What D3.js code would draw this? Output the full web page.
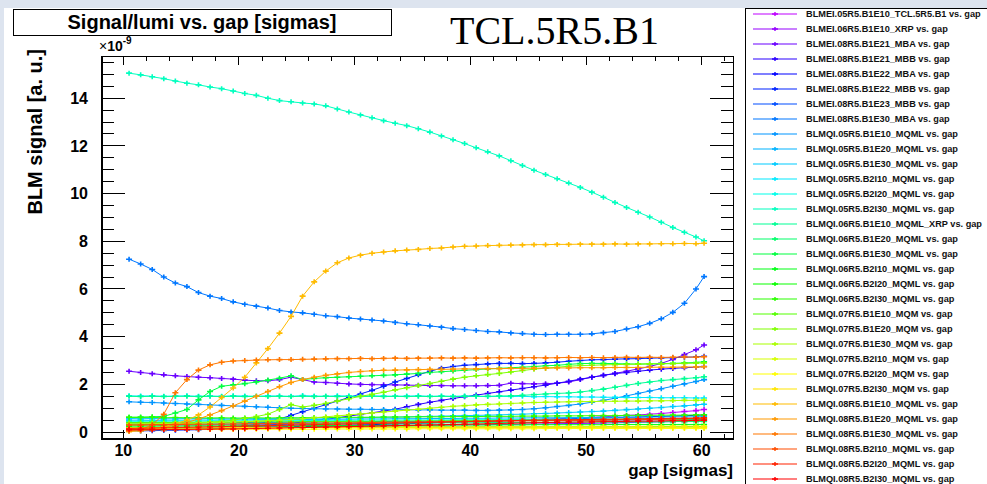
<!DOCTYPE html>
<html>
<head>
<meta charset="utf-8">
<script src="https://cdn.jsdelivr.net/npm/d3@7"></script>
<style>
  html, body { margin: 0; padding: 0; background: #dde4ef; }
  svg { display: block; font-family: "Liberation Sans", Arial, Helvetica, sans-serif; }
</style>
</head>
<body>
<svg id="chart" width="987" height="484"></svg>
<script>
// ---- data: gap positions [sigmas] and normalised BLM signal (units of 1e-9) ----
const gapSigmas = [10.5, 11.5, 12.5, 13.5, 14.5, 15.5, 16.5, 17.5, 18.5, 19.5,
  20.5, 21.5, 22.5, 23.5, 24.5, 25.5, 26.5, 27.5, 28.5, 29.5,
  30.5, 31.5, 32.5, 33.5, 34.5, 35.5, 36.5, 37.5, 38.5, 39.5,
  40.5, 41.5, 42.5, 43.5, 44.5, 45.5, 46.5, 47.5, 48.5, 49.5,
  50.5, 51.5, 52.5, 53.5, 54.5, 55.5, 56.5, 57.5, 58.5, 59.5, 60.2];

const monitorNames = [
  "BLMEI.05R5.B1E10_TCL.5R5.B1", "BLMEI.06R5.B1E10_XRP", "BLMEI.08R5.B1E21_MBA",
  "BLMEI.08R5.B1E21_MBB", "BLMEI.08R5.B1E22_MBA", "BLMEI.08R5.B1E22_MBB",
  "BLMEI.08R5.B1E23_MBB", "BLMEI.08R5.B1E30_MBA", "BLMQI.05R5.B1E10_MQML",
  "BLMQI.05R5.B1E20_MQML", "BLMQI.05R5.B1E30_MQML", "BLMQI.05R5.B2I10_MQML",
  "BLMQI.05R5.B2I20_MQML", "BLMQI.05R5.B2I30_MQML", "BLMQI.06R5.B1E10_MQML_XRP",
  "BLMQI.06R5.B1E20_MQML", "BLMQI.06R5.B1E30_MQML", "BLMQI.06R5.B2I10_MQML",
  "BLMQI.06R5.B2I20_MQML", "BLMQI.06R5.B2I30_MQML", "BLMQI.07R5.B1E10_MQM",
  "BLMQI.07R5.B1E20_MQM", "BLMQI.07R5.B1E30_MQM", "BLMQI.07R5.B2I10_MQM",
  "BLMQI.07R5.B2I20_MQM", "BLMQI.07R5.B2I30_MQM", "BLMQI.08R5.B1E10_MQML",
  "BLMQI.08R5.B1E20_MQML", "BLMQI.08R5.B1E30_MQML", "BLMQI.08R5.B2I10_MQML",
  "BLMQI.08R5.B2I20_MQML", "BLMQI.08R5.B2I30_MQML"];

const s01 = [0.3,0.29,0.3,0.28,0.29,0.3,0.29,0.3,0.31,0.3, 0.31,0.3,0.32,0.31,0.32,0.33,0.32,0.33,0.34,0.33, 0.35,0.35,0.36,0.37,0.38,0.39,0.4,0.41,0.43,0.44, 0.46,0.47,0.48,0.5,0.51,0.53,0.55,0.56,0.58,0.6, 0.62,0.64,0.67,0.7,0.72,0.75,0.78,0.82,0.86,0.9, 0.95];
const s02 = [0.18,0.18,0.19,0.18,0.19,0.19,0.2,0.19,0.2,0.2, 0.21,0.21,0.22,0.22,0.23,0.23,0.24,0.24,0.25,0.25, 0.26,0.26,0.27,0.27,0.28,0.28,0.29,0.29,0.3,0.3, 0.31,0.31,0.32,0.32,0.33,0.34,0.34,0.35,0.36,0.36, 0.37,0.38,0.39,0.4,0.41,0.42,0.43,0.44,0.45,0.46, 0.48];
const s03 = [2.55,2.5,2.45,2.4,2.36,2.33,2.3,2.28,2.25,2.22, 2.18,2.15,2.15,2.2,2.3,2.2,2.1,2.08,2.05,2.02, 2.0,1.99,1.98,1.98,1.97,1.96,1.95,1.95,1.94,1.94, 1.94,1.95,1.96,2.05,2.03,2.02,2.03,2.05,2.1,2.2, 2.3,2.38,2.46,2.55,2.65,2.75,2.88,3.05,3.25,3.45, 3.65];
const s04 = [0.1,0.1,0.11,0.11,0.12,0.12,0.13,0.14,0.15,0.17, 0.2,0.24,0.28,0.32,0.37,0.42,0.47,0.53,0.6,0.67, 0.74,0.81,0.88,0.96,1.06,1.16,1.25,1.33,1.41,1.48, 1.55,1.62,1.69,1.76,1.83,1.9,1.97,2.05,2.13,2.22, 2.3,2.38,2.45,2.5,2.55,2.6,2.64,2.67,2.7,2.72, 2.75];
const s05 = [0.12,0.12,0.13,0.13,0.14,0.14,0.15,0.15,0.16,0.17, 0.18,0.19,0.2,0.21,0.22,0.23,0.24,0.26,0.27,0.28, 0.3,0.31,0.33,0.34,0.35,0.37,0.38,0.4,0.41,0.43, 0.44,0.45,0.47,0.48,0.5,0.51,0.52,0.54,0.55,0.57, 0.58,0.59,0.61,0.62,0.63,0.65,0.66,0.67,0.69,0.7, 0.72];
const s06 = [0.05,0.05,0.06,0.07,0.08,0.09,0.1,0.12,0.15,0.2, 0.25,0.32,0.42,0.55,0.7,0.85,1.0,1.15,1.3,1.45, 1.6,1.75,1.92,2.1,2.25,2.4,2.55,2.68,2.75,2.8, 2.83,2.86,2.88,2.88,2.87,2.88,2.9,2.93,2.97,3.0, 3.03,3.04,3.06,3.07,3.08,3.1,3.11,3.12,3.14,3.15, 3.18];
const s07 = [0.38,0.38,0.39,0.38,0.39,0.39,0.4,0.39,0.4,0.4, 0.4,0.41,0.41,0.41,0.42,0.42,0.42,0.43,0.43,0.43, 0.44,0.44,0.44,0.45,0.45,0.45,0.46,0.46,0.46,0.47, 0.47,0.47,0.48,0.48,0.48,0.49,0.49,0.49,0.5,0.5, 0.5,0.5,0.51,0.51,0.51,0.52,0.52,0.52,0.53,0.53, 0.53];
const s08 = [7.25,7.05,6.82,6.5,6.25,6.1,5.85,5.7,5.6,5.46, 5.36,5.28,5.2,5.1,5.04,5.0,4.94,4.88,4.84,4.78, 4.74,4.7,4.66,4.6,4.54,4.5,4.45,4.4,4.34,4.3, 4.26,4.22,4.2,4.16,4.13,4.1,4.09,4.1,4.1,4.1, 4.12,4.17,4.22,4.32,4.42,4.56,4.75,5.02,5.4,6.0, 6.52];
const s09 = [1.27,1.25,1.24,1.22,1.2,1.18,1.16,1.14,1.12,1.1, 1.08,1.06,1.04,1.02,1.0,0.99,0.98,0.97,0.97,0.96, 0.96,0.95,0.95,0.94,0.94,0.93,0.93,0.92,0.92,0.92, 0.91,0.91,0.92,0.93,0.95,0.98,1.02,1.07,1.12,1.18, 1.25,1.33,1.42,1.52,1.62,1.72,1.82,1.92,2.02,2.12, 2.2];
const s10 = [0.5,0.5,0.49,0.5,0.5,0.5,0.51,0.5,0.51,0.51, 0.51,0.52,0.52,0.52,0.53,0.53,0.53,0.54,0.54,0.54, 0.55,0.55,0.55,0.56,0.56,0.56,0.57,0.57,0.57,0.58, 0.58,0.58,0.59,0.59,0.59,0.6,0.6,0.6,0.61,0.61, 0.61,0.62,0.62,0.62,0.63,0.63,0.63,0.64,0.64,0.64, 0.65];
const s11 = [0.57,0.56,0.57,0.56,0.56,0.57,0.56,0.57,0.56,0.56, 0.57,0.56,0.57,0.57,0.58,0.58,0.59,0.59,0.6,0.6, 0.61,0.62,0.62,0.63,0.64,0.65,0.66,0.67,0.68,0.69, 0.7,0.71,0.72,0.74,0.75,0.77,0.78,0.8,0.82,0.84, 0.86,0.88,0.91,0.94,0.97,1.0,1.03,1.07,1.1,1.14, 1.17];
const s12 = [1.52,1.51,1.52,1.5,1.51,1.52,1.5,1.51,1.5,1.52, 1.51,1.5,1.52,1.51,1.5,1.53,1.51,1.5,1.52,1.51, 1.5,1.52,1.51,1.5,1.51,1.52,1.5,1.51,1.5,1.51, 1.5,1.49,1.5,1.49,1.5,1.48,1.49,1.48,1.48,1.47, 1.47,1.46,1.46,1.45,1.45,1.45,1.44,1.44,1.44,1.43, 1.43];
const s13 = [0.45,0.45,0.46,0.45,0.46,0.46,0.46,0.46,0.47,0.47, 0.47,0.47,0.48,0.48,0.48,0.48,0.49,0.49,0.49,0.49, 0.5,0.5,0.5,0.5,0.51,0.51,0.51,0.51,0.52,0.52, 0.52,0.52,0.53,0.53,0.53,0.53,0.54,0.54,0.54,0.54, 0.55,0.55,0.55,0.55,0.56,0.56,0.56,0.57,0.57,0.57, 0.58];
const s14 = [15.05,14.98,14.9,14.82,14.72,14.63,14.56,14.47,14.4,14.3, 14.2,14.12,14.0,13.9,13.85,13.8,13.76,13.68,13.55,13.42, 13.3,13.18,13.06,12.95,12.85,12.72,12.58,12.42,12.26,12.1, 11.92,11.75,11.58,11.38,11.18,10.98,10.8,10.62,10.44,10.26, 10.06,9.85,9.63,9.42,9.22,9.02,8.8,8.58,8.38,8.18, 8.02];
const s15 = [1.5,1.49,1.5,1.49,1.5,1.5,1.49,1.5,1.49,1.5, 1.49,1.5,1.49,1.5,1.49,1.5,1.49,1.5,1.49,1.5, 1.49,1.5,1.49,1.5,1.49,1.5,1.49,1.5,1.49,1.5, 1.5,1.5,1.51,1.52,1.54,1.57,1.6,1.62,1.64,1.68, 1.74,1.8,1.88,1.96,2.04,2.1,2.16,2.2,2.24,2.28, 2.32];
const s16 = [0.32,0.32,0.33,0.32,0.33,0.33,0.33,0.34,0.34,0.34, 0.34,0.35,0.35,0.35,0.35,0.36,0.36,0.36,0.36,0.37, 0.37,0.37,0.37,0.38,0.38,0.38,0.38,0.39,0.39,0.39, 0.39,0.4,0.4,0.4,0.4,0.41,0.41,0.41,0.41,0.42, 0.42,0.42,0.42,0.43,0.43,0.43,0.43,0.44,0.44,0.44, 0.45];
const s17 = [0.62,0.63,0.64,0.66,0.8,0.95,1.35,1.7,1.92,1.98, 2.03,2.1,2.18,2.26,2.36,2.2,2.25,2.28,2.3,2.32, 2.34,2.36,2.38,2.4,2.43,2.46,2.5,2.53,2.56,2.59, 2.62,2.65,2.67,2.7,2.72,2.75,2.78,2.8,2.84,2.87, 2.88,2.88,2.87,2.86,2.85,2.86,2.87,2.88,2.9,2.92, 2.95];
const s18 = [0.25,0.25,0.25,0.26,0.25,0.26,0.26,0.26,0.26,0.26, 0.27,0.27,0.27,0.27,0.27,0.27,0.28,0.28,0.28,0.28, 0.28,0.28,0.29,0.29,0.29,0.29,0.29,0.29,0.3,0.3, 0.3,0.3,0.3,0.3,0.3,0.31,0.31,0.31,0.31,0.31, 0.31,0.31,0.32,0.32,0.32,0.32,0.32,0.32,0.32,0.32, 0.32];
const s19 = [0.2,0.2,0.2,0.21,0.2,0.21,0.2,0.21,0.21,0.2, 0.21,0.21,0.2,0.21,0.21,0.21,0.22,0.21,0.21,0.22, 0.21,0.22,0.21,0.22,0.22,0.21,0.22,0.22,0.22,0.21, 0.22,0.22,0.22,0.22,0.21,0.22,0.22,0.22,0.22,0.22, 0.22,0.22,0.23,0.22,0.22,0.22,0.23,0.22,0.22,0.23, 0.22];
const s20 = [0.62,0.61,0.62,0.6,0.61,0.6,0.6,0.59,0.6,0.59, 0.59,0.6,0.59,0.6,0.6,0.6,0.61,0.61,0.61,0.62, 0.62,0.62,0.63,0.63,0.63,0.64,0.64,0.64,0.65,0.65, 0.65,0.66,0.66,0.66,0.67,0.67,0.67,0.68,0.68,0.68, 0.69,0.69,0.69,0.7,0.7,0.7,0.71,0.71,0.71,0.72, 0.72];
const s21 = [0.4,0.4,0.41,0.4,0.41,0.41,0.41,0.42,0.42,0.42, 0.42,0.43,0.43,0.43,0.43,0.44,0.44,0.44,0.44,0.45, 0.45,0.45,0.46,0.46,0.46,0.47,0.47,0.47,0.48,0.48, 0.48,0.49,0.49,0.49,0.5,0.5,0.5,0.51,0.51,0.51, 0.52,0.52,0.52,0.53,0.53,0.53,0.54,0.54,0.54,0.55, 0.55];
const s22 = [0.3,0.3,0.31,0.32,0.33,0.35,0.37,0.4,0.45,0.5, 0.58,0.65,0.75,0.95,1.15,1.05,1.12,1.2,1.3,1.4, 1.5,1.58,1.67,1.77,1.86,1.95,2.04,2.13,2.22,2.3, 2.36,2.41,2.46,2.52,2.58,2.64,2.68,2.72,2.76,2.79, 2.8,2.82,2.83,2.84,2.85,2.86,2.86,2.87,2.88,2.89, 2.9];
const s23 = [0.35,0.35,0.36,0.36,0.37,0.38,0.39,0.4,0.41,0.42, 0.44,0.46,0.48,0.5,0.53,0.56,0.6,0.64,0.68,0.72, 0.76,0.8,0.84,0.88,0.92,0.96,1.0,1.04,1.08,1.11, 1.14,1.16,1.18,1.2,1.22,1.24,1.25,1.26,1.27,1.28, 1.28,1.29,1.29,1.3,1.3,1.31,1.31,1.32,1.33,1.33, 1.34];
const s24 = [0.15,0.15,0.15,0.16,0.16,0.16,0.16,0.17,0.17,0.17, 0.17,0.18,0.18,0.18,0.18,0.19,0.19,0.19,0.19,0.2, 0.2,0.2,0.2,0.21,0.21,0.21,0.21,0.21,0.22,0.22, 0.22,0.22,0.22,0.23,0.23,0.23,0.23,0.23,0.23,0.24, 0.24,0.24,0.24,0.24,0.24,0.25,0.25,0.25,0.25,0.25, 0.25];
const s25 = [0.1,0.1,0.1,0.1,0.11,0.11,0.11,0.11,0.11,0.11, 0.12,0.12,0.12,0.12,0.12,0.12,0.12,0.13,0.13,0.13, 0.13,0.13,0.13,0.13,0.13,0.14,0.14,0.14,0.14,0.14, 0.14,0.14,0.14,0.14,0.14,0.14,0.15,0.15,0.15,0.15, 0.15,0.15,0.15,0.15,0.15,0.15,0.15,0.15,0.15,0.15, 0.15];
const s26 = [0.18,0.18,0.18,0.18,0.18,0.18,0.18,0.18,0.18,0.19, 0.19,0.18,0.19,0.19,0.19,0.19,0.19,0.19,0.19,0.19, 0.19,0.19,0.19,0.19,0.19,0.19,0.2,0.19,0.2,0.2, 0.2,0.2,0.2,0.2,0.2,0.2,0.2,0.2,0.2,0.2, 0.2,0.2,0.2,0.2,0.2,0.2,0.2,0.2,0.2,0.2, 0.2];
const s27 = [0.02,0.05,0.12,0.22,0.35,0.5,0.72,1.05,1.45,1.85, 2.3,2.9,3.5,4.15,4.85,5.7,6.3,6.75,7.1,7.3, 7.42,7.5,7.55,7.6,7.63,7.66,7.7,7.72,7.76,7.79, 7.8,7.82,7.83,7.84,7.85,7.86,7.86,7.87,7.87,7.88, 7.88,7.88,7.89,7.88,7.89,7.89,7.9,7.9,7.91,7.9, 7.92];
const s28 = [0.1,0.12,0.15,0.2,0.28,0.4,0.55,0.72,0.9,1.1, 1.3,1.5,1.7,1.9,2.08,2.2,2.3,2.38,2.44,2.5, 2.54,2.57,2.59,2.6,2.61,2.62,2.63,2.63,2.64,2.65, 2.65,2.66,2.66,2.67,2.67,2.68,2.68,2.69,2.69,2.7, 2.7,2.7,2.71,2.71,2.71,2.72,2.72,2.72,2.73,2.73, 2.74];
const s29 = [0.05,0.1,0.3,0.75,1.65,2.2,2.6,2.82,2.93,2.98, 3.0,3.02,3.03,3.04,3.04,3.05,3.06,3.07,3.08,3.08, 3.09,3.08,3.09,3.1,3.09,3.1,3.1,3.11,3.1,3.11, 3.1,3.11,3.12,3.11,3.12,3.12,3.11,3.12,3.13,3.12, 3.13,3.12,3.13,3.14,3.13,3.14,3.13,3.14,3.15,3.14, 3.16];
const s30 = [0.3,0.3,0.31,0.31,0.32,0.32,0.33,0.33,0.34,0.34, 0.35,0.35,0.36,0.36,0.37,0.37,0.38,0.38,0.39,0.39, 0.4,0.4,0.41,0.41,0.42,0.42,0.43,0.43,0.44,0.44, 0.45,0.45,0.46,0.46,0.47,0.47,0.48,0.48,0.49,0.49, 0.5,0.5,0.51,0.52,0.52,0.53,0.54,0.55,0.56,0.57, 0.58];
const s31 = [0.15,0.16,0.17,0.18,0.19,0.2,0.21,0.22,0.23,0.24, 0.25,0.26,0.27,0.28,0.29,0.3,0.31,0.32,0.33,0.34, 0.35,0.36,0.37,0.38,0.39,0.4,0.41,0.42,0.43,0.44, 0.45,0.46,0.47,0.48,0.49,0.5,0.5,0.51,0.52,0.52, 0.53,0.54,0.54,0.55,0.56,0.56,0.57,0.58,0.58,0.59, 0.6];
const s32 = [0.1,0.1,0.1,0.11,0.11,0.11,0.12,0.12,0.13,0.13, 0.14,0.15,0.16,0.17,0.18,0.19,0.2,0.21,0.22,0.23, 0.24,0.25,0.26,0.27,0.28,0.29,0.3,0.31,0.32,0.33, 0.34,0.35,0.36,0.37,0.38,0.39,0.4,0.41,0.42,0.42, 0.43,0.44,0.44,0.45,0.46,0.46,0.47,0.48,0.48,0.49, 0.5];

const signalValues = [s01, s02, s03, s04, s05, s06, s07, s08, s09, s10, s11, s12, s13, s14, s15, s16,
  s17, s18, s19, s20, s21, s22, s23, s24, s25, s26, s27, s28, s29, s30, s31, s32];

const xMajorTicks = [10, 20, 30, 40, 50, 60];
const yMajorTicks = [0, 2, 4, 6, 8, 10, 12, 14];

// ---- styling: one hue per monitor, purple through blue, green, yellow to red ----
const seriesHues = [285, 275, 265, 250, 240, 232, 222, 212, 205, 198, 192, 185, 175, 165, 155, 145,
  135, 125, 118, 110, 100, 90, 80, 70, 60, 54, 44, 36, 28, 18, 8, 0];
const colorOf = i => d3.hsl(seriesHues[i], 1, 0.5).formatHex();

const svg = d3.select("#chart");
const W = 987, H = 484;

// page background and white canvas
svg.append("rect").attr("width", W).attr("height", H).attr("fill", "#dde4ef");
svg.append("rect").attr("x", 4).attr("y", 8).attr("width", W - 4).attr("height", H - 8).attr("fill", "#ffffff");

// plot frame geometry
const plot = { left: 102, right: 733, top: 56, bottom: 439 };

const x = d3.scaleLinear().domain([8.16, 62.7]).range([plot.left, plot.right]);
const y = d3.scaleLinear().domain([-0.29, 15.77]).range([plot.bottom, plot.top]);

svg.append("defs").append("clipPath").attr("id", "plotClip")
  .append("rect").attr("x", plot.left).attr("y", plot.top)
  .attr("width", plot.right - plot.left).attr("height", plot.bottom - plot.top);

// graphs: polyline plus a small cross marker at every measurement
const graphs = svg.append("g").attr("clip-path", "url(#plotClip)");
const line = d3.line().x(d => x(d[0])).y(d => y(d[1]));

signalValues.forEach((vals, i) => {
  const pts = gapSigmas.map((g, k) => [g, vals[k]]).filter(p => p[1] !== undefined);
  const c = colorOf(i);
  const g = graphs.append("g");
  g.append("path").attr("d", line(pts)).attr("fill", "none")
    .attr("stroke", c).attr("stroke-width", 1);
  const marks = pts.map(p => {
    const px = x(p[0]), py = y(p[1]);
    return `M${px - 3},${py}h6M${px},${py - 2.5}v5`;
  }).join("");
  g.append("path").attr("d", marks).attr("fill", "none")
    .attr("stroke", c).attr("stroke-width", 1.6);
});

// frame
const axisG = svg.append("g").attr("stroke", "#000").attr("shape-rendering", "crispEdges");
axisG.append("rect").attr("x", plot.left).attr("y", plot.top)
  .attr("width", plot.right - plot.left).attr("height", plot.bottom - plot.top)
  .attr("fill", "none").attr("stroke-width", 1);
axisG.append("line").attr("x1", plot.left).attr("x2", plot.left)
  .attr("y1", plot.top).attr("y2", plot.bottom + 1).attr("stroke-width", 2);
axisG.append("line").attr("x1", plot.left).attr("x2", plot.right)
  .attr("y1", plot.bottom).attr("y2", plot.bottom).attr("stroke-width", 2);

// ticks on all four sides
const xMinor = d3.range(10, 62.71, 2);
const yMinor = d3.range(0, 15.51, 0.5);
xMinor.forEach(v => {
  const major = xMajorTicks.includes(v);
  const len = major ? 9 : 5;
  axisG.append("line").attr("x1", x(v)).attr("x2", x(v))
    .attr("y1", plot.bottom).attr("y2", plot.bottom - len);
  axisG.append("line").attr("x1", x(v)).attr("x2", x(v))
    .attr("y1", plot.top).attr("y2", plot.top + len);
});
yMinor.forEach(v => {
  const major = yMajorTicks.includes(v);
  const len = major ? 23 : 12;
  axisG.append("line").attr("x1", plot.left).attr("x2", plot.left + len)
    .attr("y1", y(v)).attr("y2", y(v));
  axisG.append("line").attr("x1", plot.right).attr("x2", plot.right - len)
    .attr("y1", y(v)).attr("y2", y(v));
});

// tick labels
const lab = svg.append("g").attr("font-weight", "bold").attr("font-size", 16).attr("fill", "#000");
xMajorTicks.forEach(v => {
  lab.append("text").attr("x", x(v)).attr("y", 455.5).attr("text-anchor", "middle").text(v);
});
yMajorTicks.forEach(v => {
  lab.append("text").attr("x", 88).attr("y", y(v)).attr("dy", "0.36em")
    .attr("text-anchor", "end").text(v);
});

// exponent of the y axis
const expo = svg.append("text").attr("x", 99).attr("y", 51).attr("font-size", 14).attr("font-weight", "bold");
expo.append("tspan").attr("font-weight", "normal").text("\u00d7");
expo.append("tspan").text("10");
expo.append("tspan").attr("dy", -7).attr("font-size", 10).text("-9");

// axis titles
svg.append("text").attr("x", plot.right).attr("y", 476).attr("text-anchor", "end")
  .attr("font-weight", "bold").attr("font-size", 17).text("gap [sigmas]");
svg.append("text").attr("transform", "translate(42,49) rotate(-90)")
  .attr("text-anchor", "end").attr("font-weight", "bold").attr("font-size", 20)
  .text("BLM signal [a. u.]");

// title box
svg.append("rect").attr("x", 13.5).attr("y", 9.5).attr("width", 378).attr("height", 26)
  .attr("fill", "#fff").attr("stroke", "#000").attr("stroke-width", 1);
svg.append("text").attr("x", 202).attr("y", 29).attr("text-anchor", "middle")
  .attr("font-weight", "bold").attr("font-size", 20).text("Signal/lumi vs. gap [sigmas]");

// collimator label
svg.append("text").attr("x", 450).attr("y", 44)
  .attr("font-family", "'Liberation Serif', 'Times New Roman', serif")
  .attr("font-size", 40).text("TCL.5R5.B1");

// legend
const leg = svg.append("g");
leg.append("rect").attr("x", 745.5).attr("y", 8.5).attr("width", 260).attr("height", 500)
  .attr("fill", "#fff").attr("stroke", "#000").attr("stroke-width", 1);
monitorNames.forEach((name, i) => {
  const ly = 14 + 15 * i;
  const c = colorOf(i);
  leg.append("line").attr("x1", 753).attr("x2", 797).attr("y1", ly).attr("y2", ly)
    .attr("stroke", c).attr("stroke-width", 1.2);
  leg.append("path").attr("d", `M772,${ly}h6M775,${ly - 2}v4`).attr("stroke", c).attr("stroke-width", 1.4);
  leg.append("text").attr("x", 806).attr("y", ly).attr("dy", "0.35em")
    .attr("font-size", 9.2).attr("font-weight", "bold").attr("fill", "#111")
    .text(name + " vs. gap");
});
</script>
</body>
</html>
